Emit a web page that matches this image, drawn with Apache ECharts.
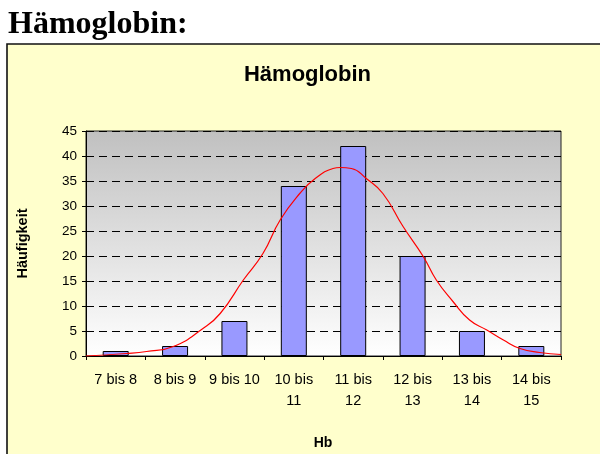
<!DOCTYPE html>
<html>
<head>
<meta charset="utf-8">
<script src="https://cdn.jsdelivr.net/npm/echarts@6/dist/echarts.min.js"></script>
<style>
html,body{margin:0;padding:0;background:#fff;}
#c{width:600px;height:454px;}
</style>
</head>
<body>
<div id="c"></div>
<script>
const categories = ["7 bis 8", "8 bis 9", "9 bis 10", "10 bis\n11", "11 bis\n12", "12 bis\n13", "13 bis\n14", "14 bis\n15"];
const counts = [1, 2, 7, 34, 42, 20, 5, 2];
const curveX = [7.0, 7.68, 8.02, 8.47, 8.97, 9.26, 9.65, 9.98, 10.27, 10.6, 10.86, 11.16, 11.28, 11.47, 11.72, 12.0, 12.34, 12.68, 12.9, 13.18, 13.46, 13.75, 14.03, 14.31, 14.64, 15.0];
const curveY = [0, 0.5, 0.9, 1.9, 5.5, 8.5, 15.2, 20.5, 27.2, 32.5, 35.5, 37.5, 37.7, 37.5, 35.5, 32.5, 25.9, 19.9, 15.2, 10.9, 7.2, 5.2, 3.2, 1.5, 0.7, 0.3];
const yTicks = [0, 5, 10, 15, 20, 25, 30, 35, 40, 45];

const SANS = '"Liberation Sans", Arial, sans-serif';
const chart = echarts.init(document.getElementById('c'));
chart.setOption({
  animation: false,
  graphic: [
    { type: 'rect', shape: { x: 7, y: 44, width: 600, height: 420 }, style: { fill: '#FFFFCC', stroke: '#111', lineWidth: 1.6 }, z: -10 },
    { type: 'text', x: 8, y: 25, style: { text: 'Hämoglobin:', font: 'bold 32px "Liberation Serif", "Times New Roman", serif', fill: '#000', verticalAlign: 'middle' } },
    { type: 'text', x: 307.5, y: 74.5, style: { text: 'Hämoglobin', font: 'bold 22px ' + SANS, fill: '#000', align: 'center', verticalAlign: 'middle' } },
    { type: 'text', x: 23, y: 243.5, rotation: Math.PI / 2, style: { text: 'Häufigkeit', font: 'bold 14.5px ' + SANS, fill: '#000', align: 'center', verticalAlign: 'middle' } },
    { type: 'text', x: 323, y: 443.5, style: { text: 'Hb', font: 'bold 14px ' + SANS, fill: '#000', align: 'center', verticalAlign: 'middle' } }
  ],
  grid: {
    left: 86, top: 131, width: 475, height: 225, show: true,
    backgroundColor: { type: 'linear', x: 0, y: 0, x2: 0, y2: 1, colorStops: [{ offset: 0, color: '#C0C0C0' }, { offset: 1, color: '#FFFFFF' }] },
    borderColor: '#222', borderWidth: 1
  },
  xAxis: [
    {
      type: 'category', data: categories,
      axisLine: { lineStyle: { color: '#000', width: 1 } },
      axisTick: { show: true, length: 4, lineStyle: { color: '#000' } },
      axisLabel: { interval: 0, color: '#000', fontSize: 14.5, fontFamily: SANS, margin: 13, lineHeight: 21 },
      splitLine: { show: false }
    },
    { type: 'value', min: 7, max: 15, show: false, position: 'bottom' }
  ],
  yAxis: {
    type: 'value', min: 0, max: 45, interval: 5,
    axisLine: { show: true, lineStyle: { color: '#000' } },
    axisTick: { show: true, length: 4, lineStyle: { color: '#000' } },
    axisLabel: { color: '#000', fontSize: 13.5, fontFamily: SANS, margin: 9, formatter: v => yTicks.includes(v) ? String(v) : '' },
    splitLine: { show: true, lineStyle: { color: '#000', type: [8, 5], width: 1 } }
  },
  series: [
    {
      type: 'bar', data: counts, barWidth: 26,
      itemStyle: { color: '#9999FF', borderColor: '#000', borderWidth: 1 }
    },
    {
      type: 'line', xAxisIndex: 1, data: curveX.map((x, i) => [x, curveY[i]]),
      smooth: true, symbol: 'none', lineStyle: { color: '#FF0000', width: 1.2 }, z: 5
    }
  ]
});
</script>
</body>
</html>
